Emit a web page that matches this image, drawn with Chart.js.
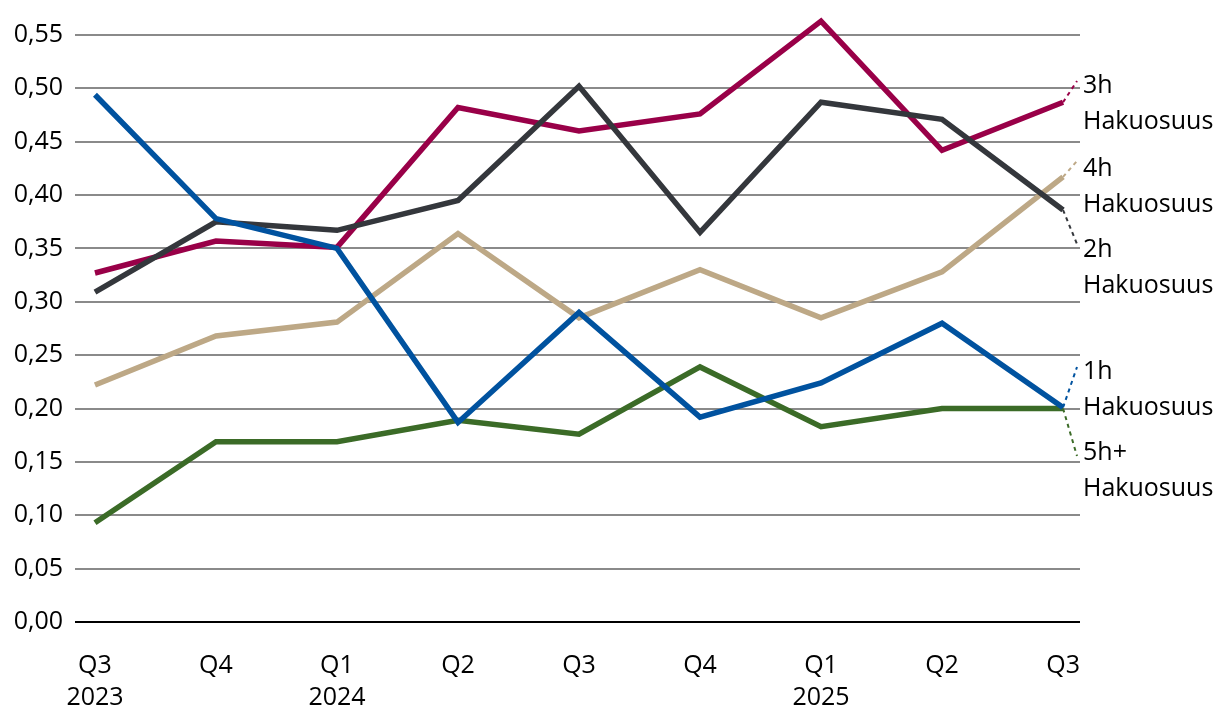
<!DOCTYPE html>
<html>
<head>
<meta charset="utf-8">
<script src="https://cdn.jsdelivr.net/npm/chart.js@4"></script>
<style>
  html, body { margin: 0; padding: 0; background: #fff; }
  #wrap { width: 1220px; height: 720px; }
</style>
</head>
<body>
<div id="wrap"><canvas id="chart" width="1220" height="720"></canvas></div>
<script>
// Data
const quarters = [['Q3', '2023'], ['Q4'], ['Q1', '2024'], ['Q2'], ['Q3'], ['Q4'], ['Q1', '2025'], ['Q2'], ['Q3']];
const yTicks = [0, 0.05, 0.10, 0.15, 0.20, 0.25, 0.30, 0.35, 0.40, 0.45, 0.50, 0.55];

const hours1 = [0.494, 0.378, 0.350, 0.187, 0.290, 0.192, 0.224, 0.280, 0.201];
const hours2 = [0.309, 0.375, 0.367, 0.395, 0.502, 0.365, 0.487, 0.471, 0.386];
const hours3 = [0.327, 0.357, 0.351, 0.482, 0.460, 0.476, 0.563, 0.442, 0.487];
const hours4 = [0.222, 0.268, 0.281, 0.364, 0.285, 0.330, 0.285, 0.328, 0.417];
const hours5 = [0.093, 0.169, 0.169, 0.189, 0.176, 0.239, 0.183, 0.200, 0.200];

const seriesNames = ['1h', '2h', '3h', '4h', '5h+'];
const seriesUnit = 'Hakuosuus';

// Colours
const colors = {
  '1h': '#00529f',
  '2h': '#34373c',
  '3h': '#990048',
  '4h': '#bda886',
  '5h+': '#3b6b27'
};

// where each end label sits (first line centre, px) and where its leader stops
const labelY = { '3h': 86, '4h': 169, '2h': 250, '1h': 372, '5h+': 453 };
const leaderY = { '3h': 81, '4h': 161, '2h': 244, '1h': 367, '5h+': 456 };
const FONT = "'Open Sans', sans-serif";

function makeSet(name, values) {
  return {
    label: name,
    data: values.map((v, i) => ({ x: i, y: v })),
    borderColor: colors[name],
    borderWidth: 5.5,
    pointRadius: 0,
    tension: 0,
    borderJoinStyle: 'miter',
    borderCapStyle: 'butt',
    clip: false
  };
}

// Right hand labels with dotted leader lines
const endLabels = {
  id: 'endLabels',
  afterDatasetsDraw(chart) {
    const ctx = chart.ctx;
    const xs = chart.scales.x;
    const ys = chart.scales.y;
    const textX = 1083;
    chart.data.datasets.forEach(ds => {
      const last = ds.data[ds.data.length - 1];
      const px = xs.getPixelForValue(last.x);
      const py = ys.getPixelForValue(last.y);
      const ly = labelY[ds.label];

      ctx.save();
      ctx.strokeStyle = ds.borderColor;
      ctx.lineWidth = 2;
      ctx.setLineDash([4, 4]);
      ctx.beginPath();
      ctx.moveTo(px, py);
      ctx.lineTo(textX - 6, leaderY[ds.label]);
      ctx.stroke();
      ctx.restore();

      ctx.save();
      ctx.fillStyle = '#000';
      ctx.font = '25px ' + FONT;
      ctx.textAlign = 'left';
      ctx.textBaseline = 'middle';
      ctx.fillText(ds.label, textX, ly);
      ctx.fillText(seriesUnit, textX, ly + 36);
      ctx.restore();
    });
  }
};

const order = ['1h', '5h+', '2h', '3h', '4h'];
const valuesByName = { '1h': hours1, '2h': hours2, '3h': hours3, '4h': hours4, '5h+': hours5 };

new Chart(document.getElementById('chart'), {
  type: 'line',
  data: {
    datasets: order.map(n => makeSet(n, valuesByName[n]))
  },
  options: {
    responsive: false,
    animation: false,
    layout: { padding: { top: 35, right: 140, left: 0, bottom: 0 } },
    plugins: {
      legend: { display: false },
      tooltip: { enabled: false }
    },
    scales: {
      x: {
        type: 'linear',
        min: -0.165,
        max: 8.14,
        afterBuildTicks: s => { s.ticks = quarters.map((q, i) => ({ value: i })); },
        afterFit: s => { s.height = 98; },
        grid: { display: false },
        border: { display: false },
        ticks: {
          autoSkip: false,
          maxRotation: 0,
          padding: 20,
          color: '#000',
          font: { family: FONT, size: 25, lineHeight: 1.28 },
          callback: v => quarters[v]
        }
      },
      y: {
        min: 0,
        max: 0.55,
        afterBuildTicks: s => { s.ticks = yTicks.map(v => ({ value: v })); },
        afterFit: s => { s.width = 75; },
        border: { display: false },
        grid: {
          drawTicks: false,
          lineWidth: 2,
          color: c => c.tick.value === 0 ? '#000' : '#8a8a8a'
        },
        ticks: {
          padding: 12,
          color: '#000',
          font: { family: FONT, size: 25 },
          callback: v => v.toFixed(2).replace('.', ',')
        }
      }
    }
  },
  plugins: [endLabels]
});
</script>
</body>
</html>
